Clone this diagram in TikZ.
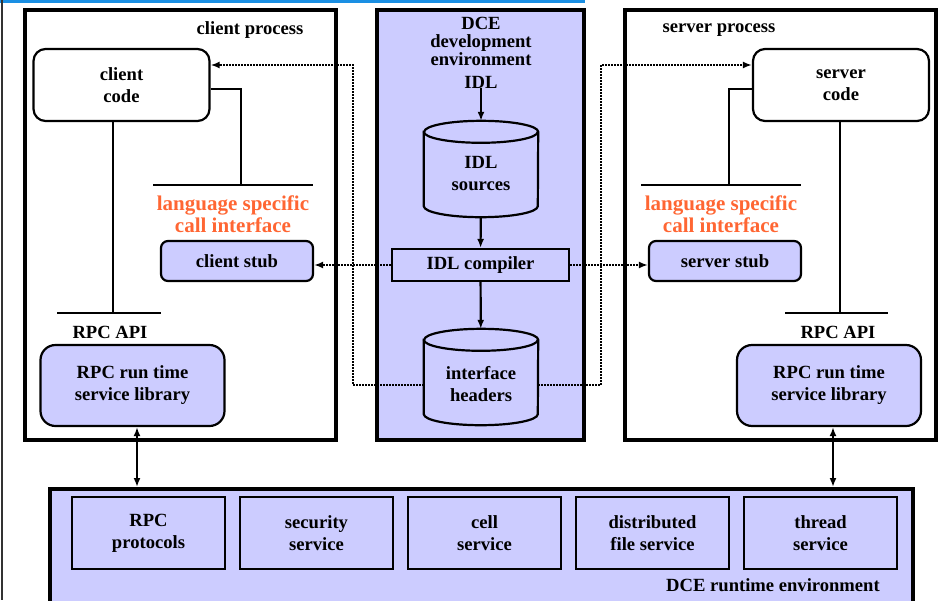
\documentclass[tikz,border=0pt]{standalone}
\usepackage{fontspec}
\setmainfont{Liberation Serif}
\usetikzlibrary{arrows.meta,calc}
\definecolor{lav}{HTML}{CCCCFF}
\definecolor{ora}{HTML}{FF6633}
\definecolor{hdrblue}{HTML}{1A8FE3}

% cylinder outline around a rectangular node #1 (cap radii 57 x 11)
\newcommand\drawdrum[1]{%
  \draw[drum] ($(#1.north west)+(0,11)$) -- ($(#1.south west)+(0,-11)$)
    arc[start angle=180,end angle=0,x radius=57,y radius=11]
    -- ($(#1.north east)+(0,11)$)
    arc[start angle=0,end angle=-180,x radius=57,y radius=11] -- cycle;
  \draw[line width=2.2pt] ($(#1.north west)+(0,11)$)
    arc[start angle=180,end angle=0,x radius=57,y radius=11];}

\begin{document}
\begin{tikzpicture}[x=1pt,y=-1pt,
  every node/.style={font=\fontsize{18.6}{22}\selectfont\bfseries, align=center, inner sep=0pt},
  frame/.style={draw, line width=4pt},
  codebox/.style={draw, line width=2.2pt, rounded corners=12pt, fill=white,
    minimum width=176pt, minimum height=72pt},
  stubbox/.style={draw, line width=2.2pt, rounded corners=7pt, fill=lav,
    minimum width=152pt, minimum height=40pt},
  libbox/.style={draw, line width=2.2pt, rounded corners=15pt, fill=lav,
    minimum width=184pt, minimum height=81pt},
  compbox/.style={draw, line width=2.2pt, fill=lav, minimum width=177pt, minimum height=32pt},
  svcbox/.style={draw, line width=2.2pt, fill=lav, minimum width=153pt, minimum height=72pt},
  drumarea/.style={minimum width=114pt, minimum height=96pt},
  drum/.style={draw, line width=2.2pt, fill=lav},
  langtext/.style={text=ora, font=\fontsize{21}{22}\selectfont\bfseries},
  wire/.style={line width=2.2pt},
  arr/.style={line width=2.2pt, -{Latex[length=9pt,width=7pt]}},
  dblarr/.style={line width=2.2pt, {Latex[length=9pt,width=7pt]}-{Latex[length=9pt,width=7pt]}},
  dotarr/.style={line width=2.2pt, dash pattern=on 1.6pt off 1.4pt, -{Latex[length=9pt,width=7pt]}},
]
\useasboundingbox (0,0) rectangle (945,600);

% page edge decorations
\fill[hdrblue] (0,0) rectangle (585,3);
\draw[line width=1.5pt, black!80] (2,0) -- (2,600);

% process / environment frames
\node[frame, minimum width=311pt, minimum height=430pt] (cframe) at (180.5,225) {};
\node[frame, fill=lav, minimum width=207pt, minimum height=430pt] (dframe) at (480.5,225) {};
\node[frame, minimum width=311pt, minimum height=430pt] (sframe) at (780.5,225) {};
\node[frame, fill=lav, minimum width=863pt, minimum height=151pt] (rt) at (481.5,564.5) {};

% titles
\node (cproc) at (250,30) {client process};
\node (sproc) at (719,30) {server process};
\node[font=\fontsize{18.6}{18}\selectfont\bfseries] (devenv) at (481,41) {DCE\\development\\environment};
\node (idl) at (481,82) {IDL};
\node (rtlbl) at (773,585) {DCE runtime environment};

% application code
\node[codebox] (ccode) at (121.5,85) {client\\code};
\node[codebox] (scode) at (841,85) {server\\code};

% interface bars
\coordinate (clangL) at (153,185);
\coordinate (clangR) at (313,185);
\coordinate (slangL) at (641,185);
\coordinate (slangR) at (801,185);
\coordinate (capiL) at (57,313);
\coordinate (capiR) at (161,313);
\coordinate (sapiL) at (785,313);
\coordinate (sapiR) at (888,313);
\draw[wire] (clangL) -- (clangR);
\draw[wire] (slangL) -- (slangR);
\draw[wire] (capiL) -- (capiR);
\draw[wire] (sapiL) -- (sapiR);

\node[langtext] (clang) at (233,214) {language specific\\call interface};
\node[langtext] (slang) at (721,214) {language specific\\call interface};
\node (capi) at (110,332) {RPC API};
\node (sapi) at (838,332) {RPC API};

% stubs and run time libraries
\node[stubbox] (cstub) at (237,261) {client stub};
\node[stubbox] (sstub) at (725,261) {server stub};
\node[libbox] (clib) at (132.5,385.5) {RPC run time\\service library};
\node[libbox] (slib) at (829,385.5) {RPC run time\\service library};

% code-to-interface wiring
\coordinate (cbend) at (241,89);
\coordinate (sbend) at (729,89);
\coordinate (cdrop) at (113,313);
\coordinate (sdrop) at (840,313);
\draw[wire] (cbend -| ccode.east) -- (cbend) -- (cbend |- clangL);
\draw[wire] (sbend -| scode.west) -- (sbend) -- (sbend |- slangL);
\draw[wire] (cdrop |- ccode.south) -- (cdrop);
\draw[wire] (sdrop |- scode.south) -- (sdrop);

% development tool chain
\node[drumarea] (src) at (481,169) {};
\drawdrum{src}
\node (srclbl) at (481,174) {IDL\\sources};
\node[compbox] (idlc) at (480.5,265) {IDL compiler};
\node[drumarea] (hdr) at (481,377) {};
\drawdrum{hdr}
\node (hdrlbl) at (481,384) {interface\\headers};

\draw[arr] (idl) -- (src);
\draw[arr] (src) -- (idlc);
\draw[arr] (idlc) -- (hdr);

% generated artefacts flow into the processes
\coordinate (lrise) at (353,385);
\coordinate (ltop) at (353,65);
\coordinate (rrise) at (601,385);
\coordinate (rtop) at (601,65);
\draw[dotarr] (idlc.west) -- (idlc.west -| cstub.east);
\draw[dotarr] (idlc.east) -- (idlc.east -| sstub.west);
\draw[dotarr] (lrise -| hdr.west) -- (lrise) -- (ltop) -- (ltop -| ccode.east);
\draw[dotarr] (rrise -| hdr.east) -- (rrise) -- (rtop) -- (rtop -| scode.west);

% runtime services
\node[svcbox] (rpcp) at (148.5,533) {RPC\\protocols};
\node[svcbox] (secs) at (316.5,533) {security\\service};
\node[svcbox] (cells) at (484.5,533) {cell\\service};
\node[svcbox] (dfs) at (652.5,533) {distributed\\file service};
\node[svcbox] (thrs) at (820.5,533) {thread\\service};

% library <-> runtime links
\coordinate (cbus) at (137,460);
\coordinate (sbus) at (833,460);
\draw[dblarr] (cbus |- clib.south) -- (cbus |- rt.north);
\draw[dblarr] (sbus |- slib.south) -- (sbus |- rt.north);
\end{tikzpicture}
\end{document}
